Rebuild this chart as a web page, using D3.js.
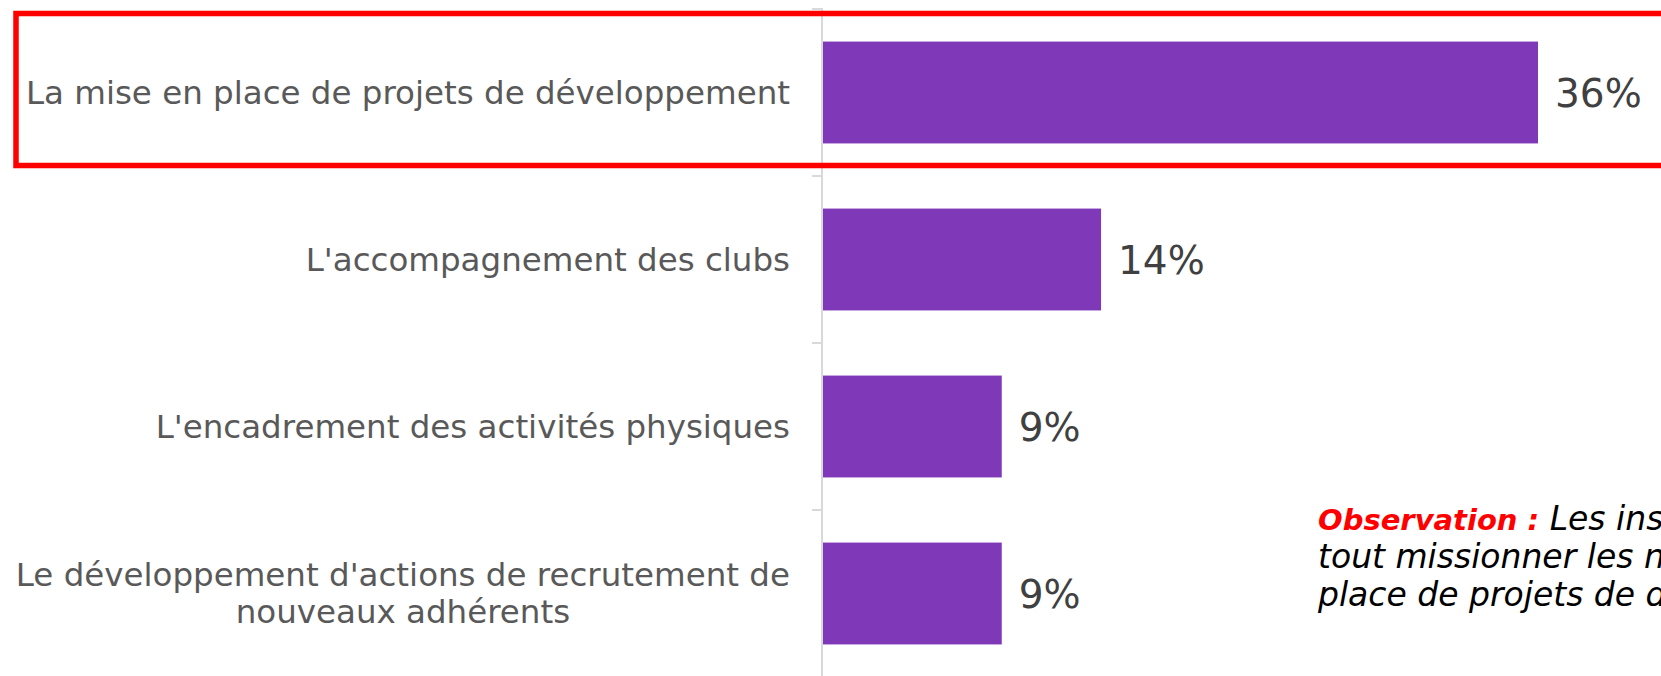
<!DOCTYPE html>
<html lang="fr">
<head>
<meta charset="utf-8">
<title>Missions des nouveaux salariés</title>
<script src="https://cdn.jsdelivr.net/npm/d3@7"></script>
<style>
  html, body { margin: 0; padding: 0; background: #ffffff; overflow: hidden; }
  svg { display: block; }
</style>
</head>
<body>
<svg id="chart" width="1661" height="676"></svg>
<script>
// Categories, values and label texts
const categories = [
  "La mise en place de projets de développement",
  "L'accompagnement des clubs",
  "L'encadrement des activités physiques",
  "Le développement d'actions de recrutement de nouveaux adhérents"
];
const values = [36, 14, 9, 9];
const valueLabels = ["36%", "14%", "9%", "9%"];
const highlighted = ["La mise en place de projets de développement"];
const noteTitle = "Observation :";
const noteLines = [
  "Les instances souhaitent avant",
  "tout missionner les nouveaux salariés sur la mise en",
  "place de projets de développement."
];

const W = 1661, H = 676;
const svg = d3.select("#chart");

const axisX = 822;
const labelFont = "'DejaVu Sans', sans-serif";

const y = d3.scaleBand()
  .domain(categories)
  .range([9, 677])
  .paddingInner(0.39)
  .paddingOuter(0.195);

const x = d3.scaleLinear()
  .domain([0, d3.max(values)])
  .range([axisX + 1, 1538]);

// Bars
svg.append("g")
  .selectAll("rect")
  .data(categories)
  .join("rect")
  .attr("x", x(0))
  .attr("y", d => y(d))
  .attr("width", (d, i) => x(values[i]) - x(0))
  .attr("height", y.bandwidth())
  .attr("fill", "#7F38B8");

// Category axis: vertical line and ticks at band boundaries
const step = y.step();
const start = y.range()[0];
const boundaries = d3.range(categories.length + 1).map(i => start + i * step);
const axisG = svg.append("g").attr("stroke", "#D9D9D9").attr("stroke-width", 2);
axisG.append("line")
  .attr("x1", axisX).attr("x2", axisX)
  .attr("y1", start - 1).attr("y2", H + 5);
axisG.selectAll("line.tick")
  .data(boundaries)
  .join("line")
  .attr("class", "tick")
  .attr("x1", axisX - 10).attr("x2", axisX)
  .attr("y1", d => d).attr("y2", d => d);

// Category labels, wrapped to fit left of the axis
const labelRight = 790;
const maxLabelWidth = 785;
const lineGap = 37;
const labels = svg.append("g")
  .attr("font-family", labelFont)
  .attr("font-size", 32.5)
  .attr("fill", "#595959");

categories.forEach(cat => {
  const t = labels.append("text");
  // greedy word wrap
  const words = cat.split(" ");
  const lines = [];
  let cur = "";
  words.forEach(w => {
    const trial = cur ? cur + " " + w : w;
    t.text(trial);
    if (t.node().getComputedTextLength() > maxLabelWidth && cur) {
      lines.push(cur);
      cur = w;
    } else {
      cur = trial;
    }
  });
  lines.push(cur);
  t.text(null);
  const cy = y(cat) + y.bandwidth() / 2;
  if (lines.length === 1) {
    t.attr("text-anchor", "end")
      .attr("x", labelRight)
      .attr("y", cy)
      .attr("dy", "0.35em")
      .text(lines[0]);
  } else {
    // measure widest line, then centre all lines under it
    let widest = 0;
    lines.forEach(l => {
      t.text(l);
      widest = Math.max(widest, t.node().getComputedTextLength());
    });
    t.text(null);
    const cx = labelRight - widest / 2;
    const top = cy - (lines.length - 1) * lineGap / 2;
    t.attr("text-anchor", "middle");
    lines.forEach((l, i) => {
      t.append("tspan")
        .attr("x", cx)
        .attr("y", top + i * lineGap)
        .attr("dy", "0.35em")
        .text(l);
    });
  }
});

// Value labels at the end of each bar
svg.append("g")
  .attr("font-family", labelFont)
  .attr("font-size", 39)
  .attr("fill", "#404040")
  .selectAll("text")
  .data(categories)
  .join("text")
  .attr("x", (d, i) => x(values[i]) + 17)
  .attr("y", d => y(d) + y.bandwidth() / 2)
  .attr("dy", "0.36em")
  .text((d, i) => valueLabels[i]);

// Red frame around the highlighted category
highlighted.forEach(cat => {
  const b0 = y(cat) - step * y.paddingInner() / 2;
  svg.append("rect")
    .attr("x", 16)
    .attr("y", b0 + 4.5)
    .attr("width", W + 40)
    .attr("height", step - 15)
    .attr("fill", "none")
    .attr("stroke", "#FF0000")
    .attr("stroke-width", 5.5);
});

// Observation note
const note = svg.append("text")
  .attr("font-family", labelFont)
  .attr("font-size", 33)
  .attr("font-style", "italic");
const noteX = 1318, noteY = 530, noteGap = 38;
const first = note.append("tspan").attr("x", noteX).attr("y", noteY);
first.append("tspan")
  .attr("fill", "#FF0000")
  .attr("font-weight", "bold")
  .attr("font-size", 29)
  .text(noteTitle);
first.append("tspan")
  .attr("fill", "#000000")
  .text(" " + noteLines[0]);
noteLines.slice(1).forEach((l, i) => {
  note.append("tspan")
    .attr("x", noteX)
    .attr("y", noteY + (i + 1) * noteGap)
    .attr("fill", "#000000")
    .text(l);
});
</script>
</body>
</html>
